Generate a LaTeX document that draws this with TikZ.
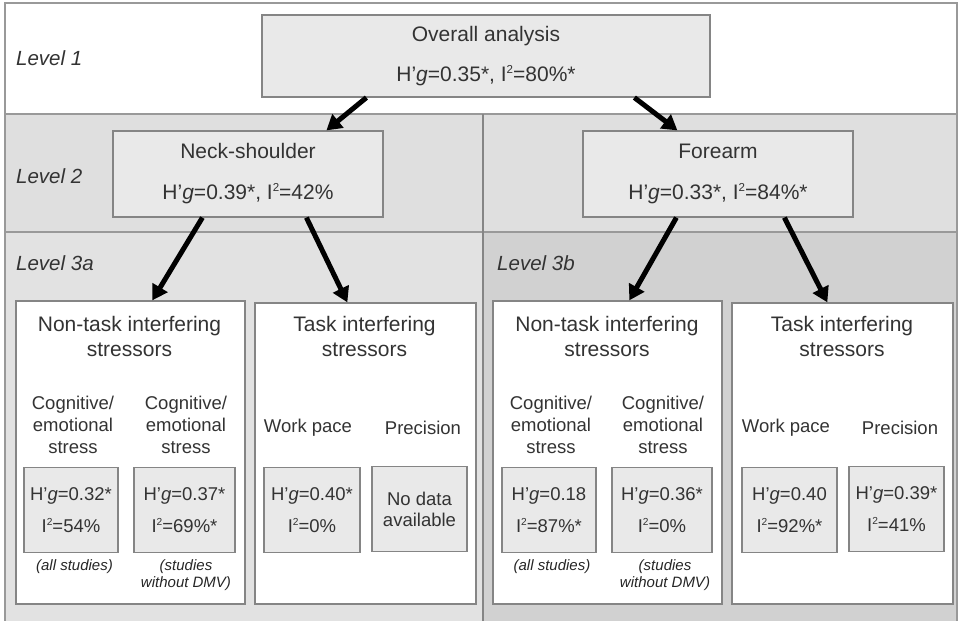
\documentclass[tikz,border=0pt]{standalone}
\usepackage{fontspec}
\usepackage{graphicx}
\setmainfont{Liberation Sans}
\usetikzlibrary{arrows.meta}
\definecolor{bandtwo}{gray}{0.875}
\definecolor{bandthreea}{gray}{0.885}
\definecolor{bandthreeb}{gray}{0.82}
\definecolor{boxfill}{gray}{0.915}
\definecolor{linegray}{gray}{0.52}
\definecolor{framegray}{gray}{0.6}
\definecolor{txt}{gray}{0.2}
\newcommand{\mysuptwo}{\raisebox{0.75ex}{\scalebox{0.55}{2}}}
\begin{document}
\begin{tikzpicture}[x=1pt,y=-1pt,
  bigbox/.style={draw=linegray, line width=1.3pt, fill=white, rectangle, inner sep=0pt},
  grbox/.style={draw=linegray, line width=1.2pt, fill=boxfill, rectangle, inner sep=0pt, align=center, text=txt},
  ttl/.style={align=center, text=txt, inner sep=0pt, font=\fontsize{21}{25}\selectfont},
  sub/.style={align=center, text=txt, inner sep=0pt, font=\fontsize{18.5}{22}\selectfont},
  foot/.style={align=center, text=black!85, inner sep=0pt, font=\fontsize{15}{17}\selectfont\itshape},
  lvl/.style={anchor=west, text=txt, inner sep=0pt, font=\fontsize{20.5}{24}\selectfont\itshape},
  arr/.style={line width=5pt, black, -{Triangle[length=15pt,width=17pt]}}
]
\useasboundingbox (0,0) rectangle (961,621);
% bands
\fill[white] (5,3) rectangle (957,114);
\fill[bandtwo] (5,114) rectangle (957,232);
\fill[bandthreea] (5,232) rectangle (483,621);
\fill[bandthreeb] (483,232) rectangle (957,621);
\draw[framegray, line width=1.4pt] (5,621) -- (5,3) -- (957,3) -- (957,621);
\draw[framegray, line width=1.4pt] (5,114) -- (957,114);
\draw[framegray, line width=1.4pt] (5,232) -- (957,232);
\draw[linegray, line width=1.2pt] (483,114) -- (483,621);

% level labels
\node[lvl] (l1) at (16,58) {Level 1};
\node[lvl] (l2) at (16,176) {Level 2};
\node[lvl] (l3a) at (16,263) {Level 3a};
\node[lvl] (l3b) at (497,263) {Level 3b};

% level 1 and 2 boxes
\node[grbox, minimum width=448pt, minimum height=82pt, font=\fontsize{21}{40}\selectfont] (ov) at (486,56)
  {Overall analysis\\H’\textit{g}=0.35*, I\mysuptwo=80\%*};
\node[grbox, minimum width=270pt, minimum height=86pt, font=\fontsize{21}{41}\selectfont] (ns) at (248,174)
  {Neck-shoulder\\H’\textit{g}=0.39*, I\mysuptwo=42\%};
\node[grbox, minimum width=270pt, minimum height=86pt, font=\fontsize{21}{41}\selectfont] (fa) at (718,174)
  {Forearm\\H’\textit{g}=0.33*, I\mysuptwo=84\%*};

% level 3 big boxes
\node[bigbox, minimum width=229pt, minimum height=303pt] (nta) at (130.5,452.5) {};
\node[bigbox, minimum width=221pt, minimum height=301pt] (ta) at (365.5,453.5) {};
\node[bigbox, minimum width=229pt, minimum height=303pt] (ntb) at (607.5,452.5) {};
\node[bigbox, minimum width=221pt, minimum height=301pt] (tb) at (842.5,453.5) {};

% titles
\node[ttl] (ntat) at (129.5,336) {Non-task interfering\\stressors};
\node[ttl] (tat) at (364.5,336) {Task interfering\\stressors};
\node[ttl] (ntbt) at (607,336) {Non-task interfering\\stressors};
\node[ttl] (tbt) at (842,336) {Task interfering\\stressors};

% sub labels
\node[sub] (ca1) at (73,425) {Cognitive/\\emotional\\stress};
\node[sub] (ca2) at (186,425) {Cognitive/\\emotional\\stress};
\node[sub] (wa) at (308,428) {Work pace};
\node[sub] (pa) at (423,428) {Precision};
\node[sub] (cb1) at (551,425) {Cognitive/\\emotional\\stress};
\node[sub] (cb2) at (663,425) {Cognitive/\\emotional\\stress};
\node[sub] (wb) at (786,428) {Work pace};
\node[sub] (pb) at (900,428) {Precision};

% small boxes
\begin{scope}[every node/.append style={minimum height=85pt, font=\fontsize{18.5}{32}\selectfont}]
\node[grbox, minimum width=94pt] (a1) at (71,510) {H’\textit{g}=0.32*\\I\mysuptwo=54\%};
\node[grbox, minimum width=101pt] (a2) at (184.5,510) {H’\textit{g}=0.37*\\I\mysuptwo=69\%*};
\node[grbox, minimum width=96pt] (a3) at (312,510) {H’\textit{g}=0.40*\\I\mysuptwo=0\%};
\node[grbox, minimum width=95pt, font=\fontsize{18.5}{21}\selectfont] (a4) at (419.5,509) {No data\\available};
\node[grbox, minimum width=94pt] (b1) at (549,510) {H’\textit{g}=0.18\\I\mysuptwo=87\%*};
\node[grbox, minimum width=100pt] (b2) at (662,510) {H’\textit{g}=0.36*\\I\mysuptwo=0\%};
\node[grbox, minimum width=95pt] (b3) at (789.5,510) {H’\textit{g}=0.40\\I\mysuptwo=92\%*};
\node[grbox, minimum width=95pt] (b4) at (896.5,509) {H’\textit{g}=0.39*\\I\mysuptwo=41\%};
\end{scope}

% footnotes
\node[foot] (fa1) at (74.5,567) {(all studies)};
\node[foot] (fa2) at (186,575.5) {(studies\\without DMV)};
\node[foot] (fb1) at (552,567) {(all studies)};
\node[foot] (fb2) at (665,575.5) {(studies\\without DMV)};

% arrows
\draw[arr] ([xshift=105pt]ov.south west) -- ([xshift=214pt]ns.north west);
\draw[arr] ([xshift=373pt]ov.south west) -- ([xshift=95pt]fa.north west);
\draw[arr] ([xshift=90pt]ns.south west) -- ([xshift=137pt]nta.north west);
\draw[arr] ([xshift=194pt]ns.south west) -- ([xshift=93pt]ta.north west);
\draw[arr] ([xshift=94pt]fa.south west) -- ([xshift=137pt]ntb.north west);
\draw[arr] ([xshift=202pt]fa.south west) -- ([xshift=96pt]tb.north west);
\end{tikzpicture}
\end{document}
